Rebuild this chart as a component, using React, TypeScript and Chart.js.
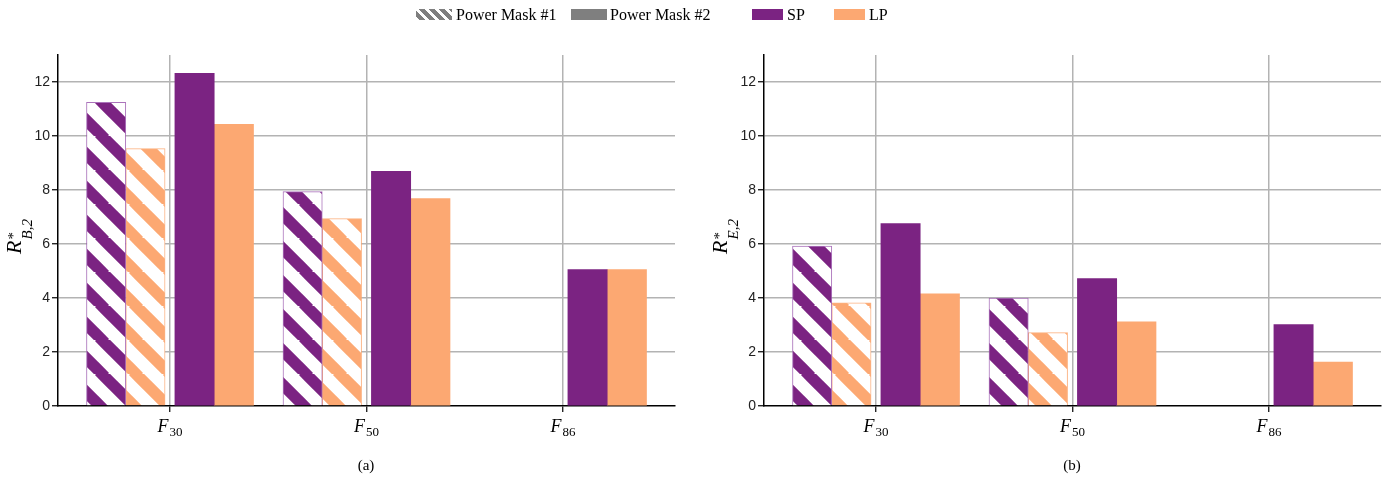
import React, { useEffect, useRef } from 'react';
import { Chart, registerables } from 'chart.js';

Chart.register(...registerables);

// ---- data ----
const CATEGORY_SUBSCRIPTS = ['30', '50', '86']; // F_30, F_50, F_86
const Y_MAX = 13;
const Y_STEP = 2;

// Panel (a): R*_{B,2}
const A_MASK1_SP: (number | null)[] = [11.25, 7.94, null];
const A_MASK1_LP: (number | null)[] = [9.53, 6.94, null];
const A_MASK2_SP: (number | null)[] = [12.32, 8.69, 5.05];
const A_MASK2_LP: (number | null)[] = [10.43, 7.68, 5.05];

// Panel (b): R*_{E,2}
const B_MASK1_SP: (number | null)[] = [5.92, 4.0, null];
const B_MASK1_LP: (number | null)[] = [3.82, 2.72, null];
const B_MASK2_SP: (number | null)[] = [6.76, 4.72, 3.02];
const B_MASK2_LP: (number | null)[] = [4.15, 3.12, 1.63];

// ---- style / layout ----
const PURPLE = '#7B2382';
const ORANGE = '#FCA872';
const GRID = '#b3b3b3';
const OFFSETS = [-0.325, -0.125, 0.125, 0.325];
const X_MIN = -0.57;
const X_MAX = 2.57;
const SERIF = '"Liberation Serif", "Times New Roman", serif';
const SANS = '"Liberation Sans", Arial, sans-serif';

function makeHatch(ctx: CanvasRenderingContext2D, color: string) {
  const s = 34;
  const c = document.createElement('canvas');
  c.width = s;
  c.height = s;
  const g = c.getContext('2d')!;
  g.fillStyle = '#ffffff';
  g.fillRect(0, 0, s, s);
  g.strokeStyle = color;
  g.lineWidth = 11.5;
  for (let k = -1; k <= 1; k++) {
    g.beginPath();
    g.moveTo(k * s - 3, -3);
    g.lineTo(k * s + s + 3, s + 3);
    g.stroke();
  }
  return ctx.createPattern(c, 'repeat')!;
}

function pts(vals: (number | null)[], off: number) {
  const out: { x: number; y: number }[] = [];
  vals.forEach((v, i) => {
    if (v !== null) out.push({ x: i + off, y: v });
  });
  return out;
}

function textPlugin(subLetter: string) {
  return {
    id: 'customText',
    afterDraw(chart: any) {
      const { ctx, chartArea, scales } = chart;
      ctx.save();
      ctx.fillStyle = '#000';
      ctx.textBaseline = 'alphabetic';
      ctx.textAlign = 'left';
      // x category labels F_xx
      CATEGORY_SUBSCRIPTS.forEach((sub, i) => {
        const x = scales.x.getPixelForValue(i);
        ctx.font = `italic 18px ${SERIF}`;
        const wF = ctx.measureText('F').width;
        ctx.font = `13px ${SERIF}`;
        const wS = ctx.measureText(sub).width;
        const x0 = x - (wF + wS + 1) / 2;
        const base = chartArea.bottom + 26;
        ctx.font = `italic 18px ${SERIF}`;
        ctx.fillText('F', x0, base);
        ctx.font = `13px ${SERIF}`;
        ctx.fillText(sub, x0 + wF + 1, base + 4);
      });
      // y title R*_{X,2}
      const cx = chartArea.left - 37;
      const cy = (chartArea.top + chartArea.bottom) / 2 + 6;
      ctx.translate(cx, cy);
      ctx.rotate(-Math.PI / 2);
      ctx.font = `italic 22px ${SERIF}`;
      const wR = ctx.measureText('R').width;
      ctx.font = `15px ${SERIF}`;
      const wStar = ctx.measureText('*').width;
      const subText = subLetter + ',2';
      ctx.font = `italic 15px ${SERIF}`;
      const wSub = ctx.measureText(subText).width;
      const total = wR + 1 + Math.max(wStar, wSub);
      const u0 = -total / 2;
      ctx.font = `italic 22px ${SERIF}`;
      ctx.fillText('R', u0, 0);
      ctx.font = `15px ${SERIF}`;
      ctx.fillText('*', u0 + wR + 1, -3);
      ctx.font = `italic 15px ${SERIF}`;
      ctx.fillText(subText, u0 + wR + 1, 11);
      ctx.restore();
    },
  };
}

type PanelProps = {
  mask1Sp: (number | null)[];
  mask1Lp: (number | null)[];
  mask2Sp: (number | null)[];
  mask2Lp: (number | null)[];
  subLetter: string;
  left: number;
  width: number;
  rightPad: number;
};

function Panel({ mask1Sp, mask1Lp, mask2Sp, mask2Lp, subLetter, left, width, rightPad }: PanelProps) {
  const ref = useRef<HTMLCanvasElement>(null);
  useEffect(() => {
    const canvas = ref.current!;
    const ctx = canvas.getContext('2d')!;
    const zeroPad = (s: any) => {
      s.paddingTop = 0;
      s.paddingBottom = 0;
      s.paddingLeft = 0;
      s.paddingRight = 0;
    };
    const chart = new Chart(canvas, {
      type: 'bar',
      data: {
        datasets: [
          {
            label: 'Power Mask #1 SP',
            data: pts(mask1Sp, OFFSETS[0]),
            backgroundColor: makeHatch(ctx, PURPLE),
            borderColor: 'rgba(150,80,170,0.8)',
            borderWidth: 1,
            grouped: false,
            categoryPercentage: 1,
            barPercentage: 1,
          },
          {
            label: 'Power Mask #1 LP',
            data: pts(mask1Lp, OFFSETS[1]),
            backgroundColor: makeHatch(ctx, ORANGE),
            borderColor: 'rgba(252,168,114,0.9)',
            borderWidth: 1,
            grouped: false,
            categoryPercentage: 1,
            barPercentage: 1,
          },
          {
            label: 'Power Mask #2 SP',
            data: pts(mask2Sp, OFFSETS[2]),
            backgroundColor: PURPLE,
            borderWidth: 0,
            grouped: false,
            categoryPercentage: 1,
            barPercentage: 1,
          },
          {
            label: 'Power Mask #2 LP',
            data: pts(mask2Lp, OFFSETS[3]),
            backgroundColor: ORANGE,
            borderWidth: 0,
            grouped: false,
            categoryPercentage: 1,
            barPercentage: 1,
          },
        ] as any,
      },
      options: {
        animation: false,
        responsive: false,
        maintainAspectRatio: false,
        layout: { padding: { top: 55, right: rightPad, bottom: 42, left: 0 } },
        plugins: { legend: { display: false }, tooltip: { enabled: false }, title: { display: false } },
        scales: {
          x: {
            type: 'linear',
            min: X_MIN,
            max: X_MAX,
            z: 1,
            offset: false,
            ticks: { stepSize: 1, includeBounds: false, display: false },
            grid: {
              offset: false,
              color: GRID,
              lineWidth: 1.5,
              tickColor: '#000',
              tickLength: 6,
              tickWidth: 1.2,
            },
            border: { color: '#000', width: 1.5 },
            afterFit: (s: any) => {
              s.height = 40;
              zeroPad(s);
            },
          },
          y: {
            min: 0,
            max: Y_MAX,
            z: 1,
            ticks: {
              stepSize: Y_STEP,
              includeBounds: false,
              color: '#222',
              padding: 2,
              font: { family: SANS, size: 14 },
            },
            grid: {
              color: (c: any) => (c.tick && c.tick.value === 0 ? 'rgba(0,0,0,0)' : GRID),
              lineWidth: 1.5,
              tickColor: '#000',
              tickLength: 6,
              tickWidth: 1.2,
            },
            border: { color: '#000', width: 1.5 },
            afterFit: (s: any) => {
              s.width = 58;
              zeroPad(s);
            },
          },
        },
      } as any,
      plugins: [textPlugin(subLetter)],
    });
    return () => chart.destroy();
  }, []);
  return (
    <canvas
      ref={ref}
      width={width}
      height={488}
      style={{ position: 'absolute', left, top: 0, width, height: 488 }}
    />
  );
}

const legendText: React.CSSProperties = {
  position: 'absolute',
  top: 7,
  fontFamily: SERIF,
  fontSize: 16,
  lineHeight: '16px',
  color: '#000',
  whiteSpace: 'nowrap',
};

const swatch = (left: number, background: string): React.CSSProperties => ({
  position: 'absolute',
  left,
  top: 9,
  width: 36,
  height: 11,
  background,
});

export default function App() {
  return (
    <div
      style={{
        position: 'fixed',
        left: 0,
        top: 0,
        width: 1389,
        height: 488,
        background: '#fff',
        overflow: 'hidden',
      }}
    >
      <Panel
        mask1Sp={A_MASK1_SP}
        mask1Lp={A_MASK1_LP}
        mask2Sp={A_MASK2_SP}
        mask2Lp={A_MASK2_LP}
        subLetter="B"
        left={0}
        width={690}
        rightPad={15}
      />
      <Panel
        mask1Sp={B_MASK1_SP}
        mask1Lp={B_MASK1_LP}
        mask2Sp={B_MASK2_SP}
        mask2Lp={B_MASK2_LP}
        subLetter="E"
        left={706}
        width={683}
        rightPad={8}
      />
      {/* legend */}
      <div
        style={swatch(
          416,
          'repeating-linear-gradient(45deg, #ffffff 0px, #ffffff 2.5px, #7f7f7f 2.5px, #7f7f7f 7px)'
        )}
      />
      <span style={{ ...legendText, left: 456 }}>Power Mask #1</span>
      <div style={swatch(571, '#7f7f7f')} />
      <span style={{ ...legendText, left: 610 }}>Power Mask #2</span>
      <div style={{ ...swatch(752, PURPLE), width: 31 }} />
      <span style={{ ...legendText, left: 787 }}>SP</span>
      <div style={{ ...swatch(834, ORANGE), width: 31 }} />
      <span style={{ ...legendText, left: 869 }}>LP</span>
      {/* captions */}
      <div
        style={{
          position: 'absolute',
          left: 316,
          top: 457,
          width: 100,
          textAlign: 'center',
          fontFamily: SERIF,
          fontSize: 15,
          lineHeight: '16px',
        }}
      >
        (a)
      </div>
      <div
        style={{
          position: 'absolute',
          left: 1022,
          top: 457,
          width: 100,
          textAlign: 'center',
          fontFamily: SERIF,
          fontSize: 15,
          lineHeight: '16px',
        }}
      >
        (b)
      </div>
    </div>
  );
}
